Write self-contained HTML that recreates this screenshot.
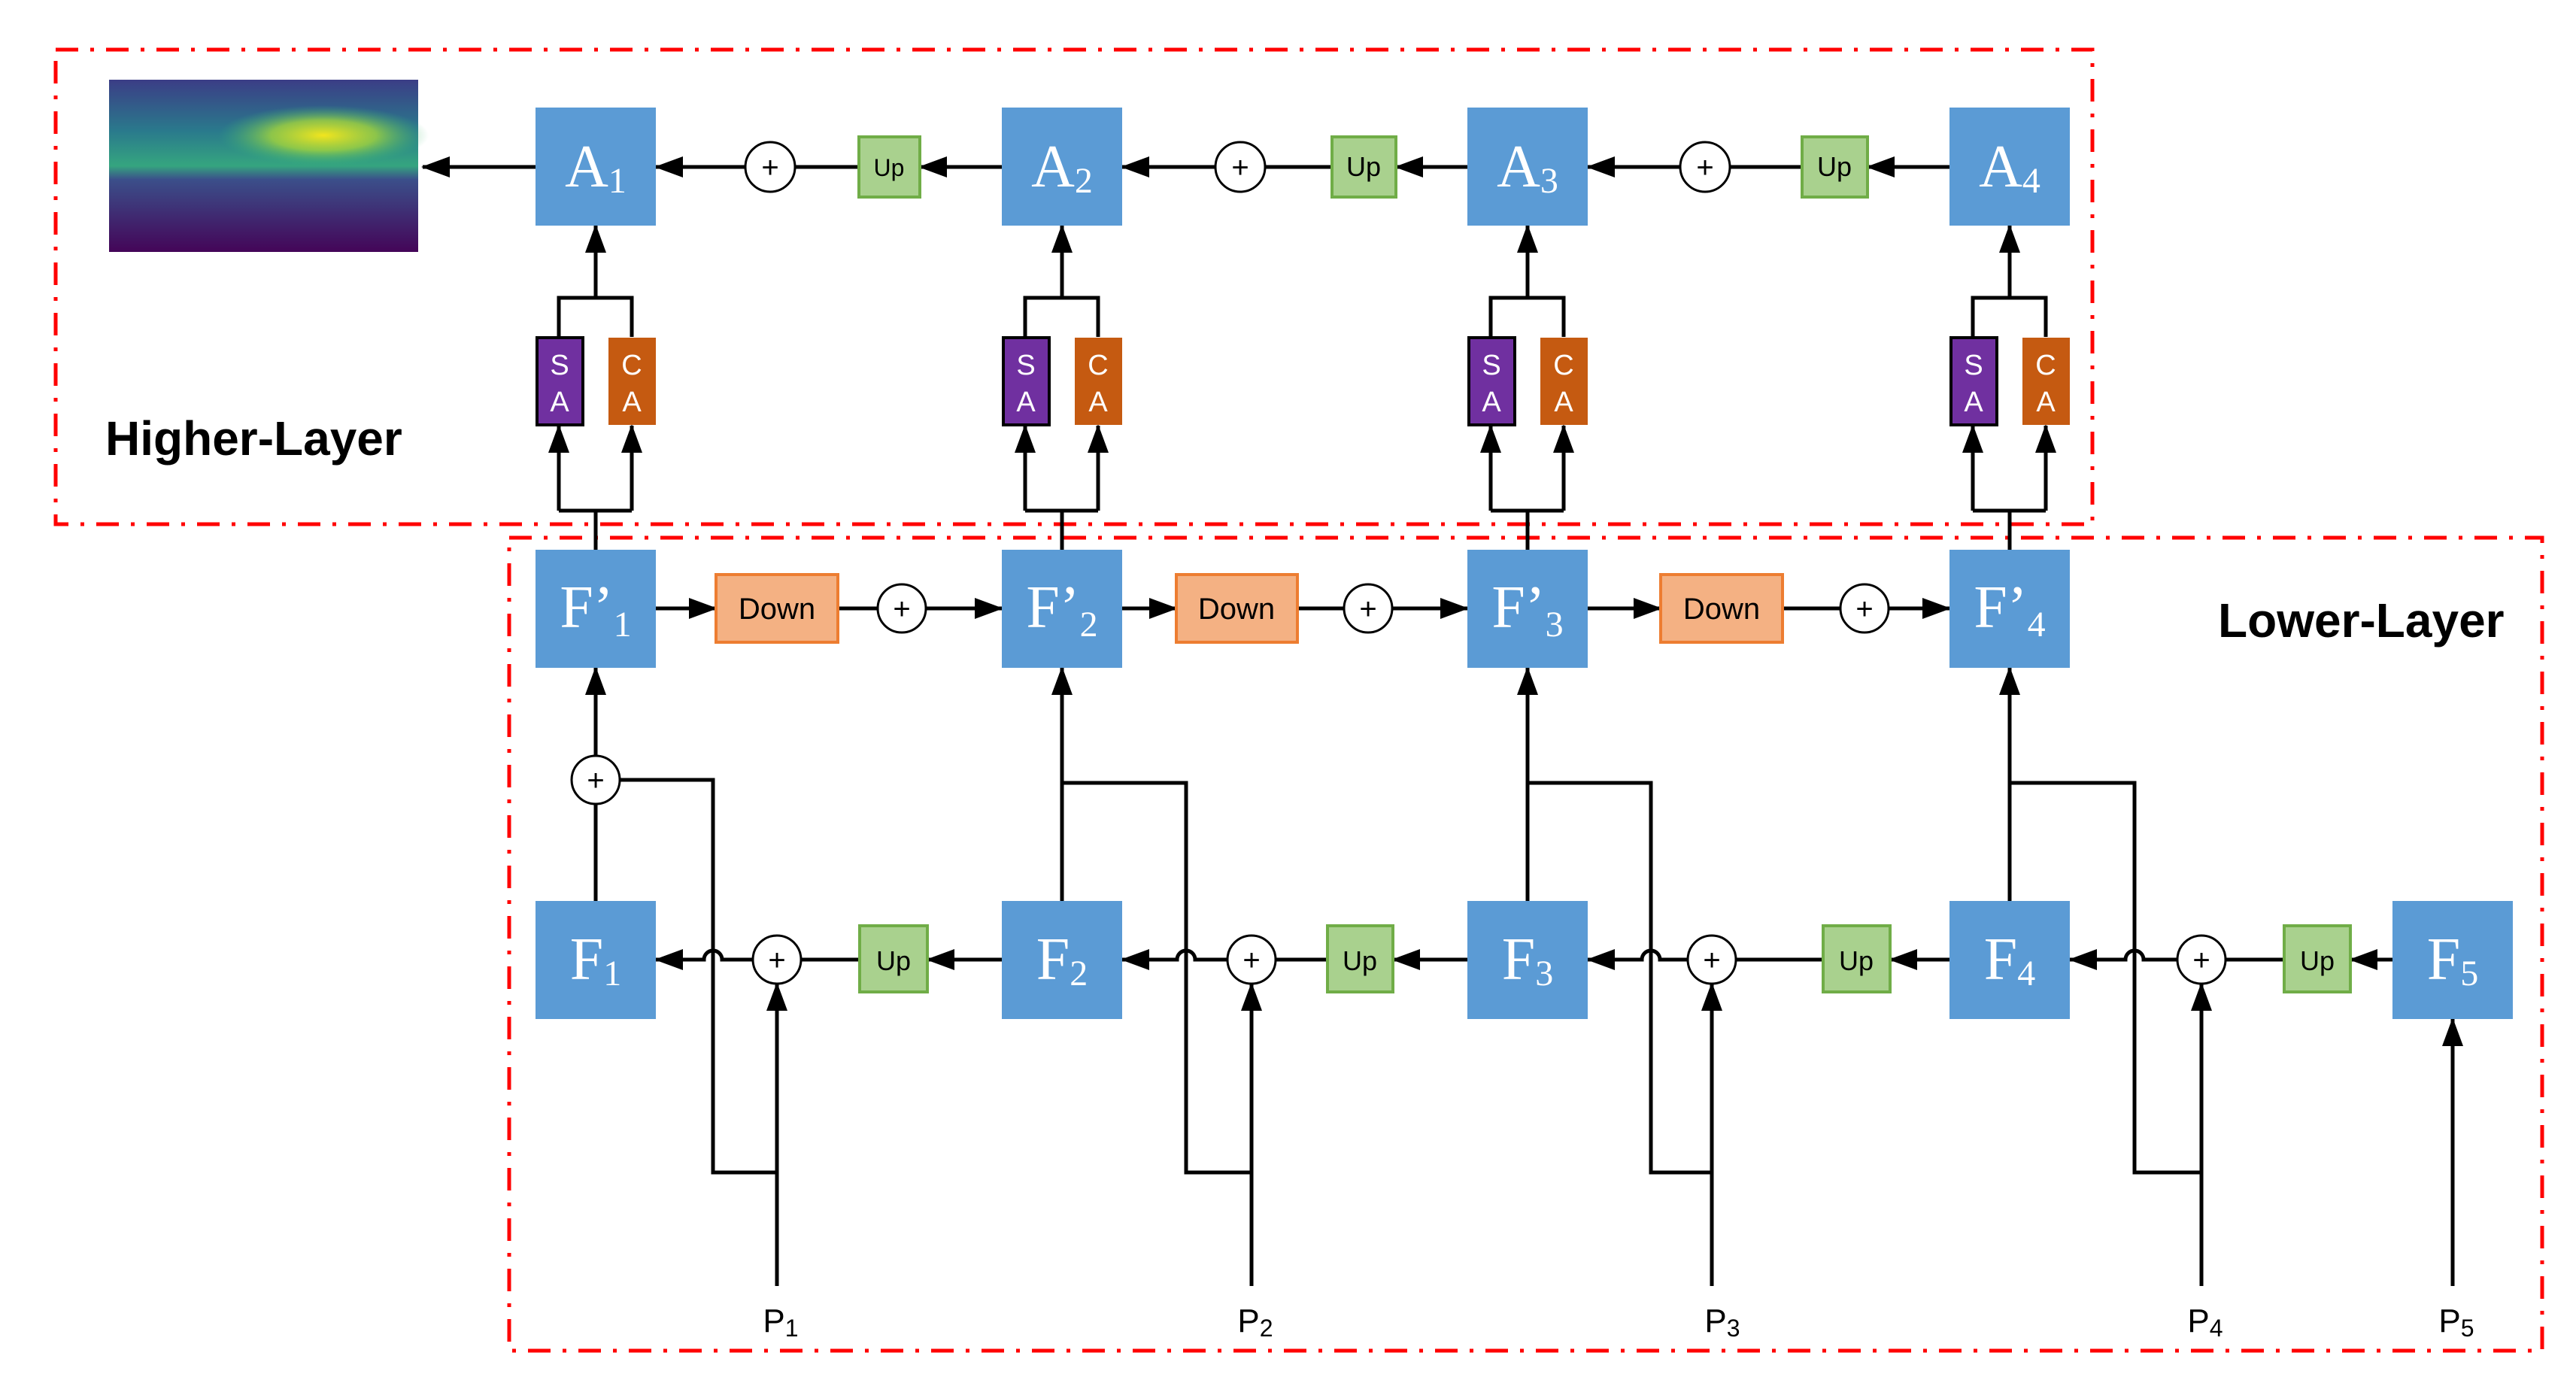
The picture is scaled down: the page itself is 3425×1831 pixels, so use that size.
<!DOCTYPE html>
<html><head><meta charset="utf-8"><style>html,body{margin:0;padding:0;background:#fff}svg{display:block}</style></head>
<body>
<svg width="3425" height="1831" viewBox="0 0 3425 1831" xmlns="http://www.w3.org/2000/svg">
<defs>
<marker id="ar" markerUnits="userSpaceOnUse" markerWidth="40" markerHeight="40" viewBox="0 0 40 40" refX="36" refY="20" orient="auto">
<path d="M0,6 L38,20 L0,34 Z" fill="#000"/></marker>
<linearGradient id="dg" x1="0" y1="0" x2="0" y2="1">
<stop offset="0" stop-color="#3b3d86"/><stop offset="0.3" stop-color="#2a7a8c"/><stop offset="0.5" stop-color="#35a57f"/><stop offset="0.58" stop-color="#3b4f8a"/><stop offset="1" stop-color="#440558"/></linearGradient>
<radialGradient id="yg" cx="0.5" cy="0.5" r="0.5"><stop offset="0" stop-color="#f2e51d"/><stop offset="0.5" stop-color="#a5d63a" stop-opacity="0.8"/><stop offset="1" stop-color="#35b779" stop-opacity="0"/></radialGradient>
</defs>
<g fill="none" stroke="#f00" stroke-width="5" stroke-dasharray="30 16 5 16">
<rect x="74" y="66" width="2708" height="631"/>
<rect x="677" y="715" width="2703" height="1081"/>
</g>
<rect x="145" y="106" width="411" height="229" fill="url(#dg)"/>
<ellipse cx="430" cy="180" rx="140" ry="40" fill="url(#yg)"/>
<text x="140" y="605" font-family="Liberation Sans, sans-serif" font-weight="bold" font-size="64">Higher-Layer</text>
<text x="2949" y="847" font-family="Liberation Sans, sans-serif" font-weight="bold" font-size="64">Lower-Layer</text>
<g stroke="#000" stroke-width="5" fill="none">
<line x1="712" y1="222" x2="562" y2="222" marker-end="url(#ar)"/>
<line x1="1332" y1="222" x2="1223" y2="222" marker-end="url(#ar)"/><line x1="1142" y1="222" x2="1056" y2="222"/><line x1="992" y1="222" x2="872" y2="222" marker-end="url(#ar)"/>
<line x1="1951" y1="222" x2="1856" y2="222" marker-end="url(#ar)"/><line x1="1771" y1="222" x2="1681" y2="222"/><line x1="1617" y1="222" x2="1492" y2="222" marker-end="url(#ar)"/>
<line x1="2592" y1="222" x2="2483" y2="222" marker-end="url(#ar)"/><line x1="2396" y1="222" x2="2299" y2="222"/><line x1="2235" y1="222" x2="2111" y2="222" marker-end="url(#ar)"/>
<!-- attention structure -->
<path d="M792,396 V300" marker-end="url(#ar)"/><path d="M743,448 V396 H840 V448"/><path d="M792,731 V679 M743,679 H840"/>
<path d="M743,679 V566" marker-end="url(#ar)"/><path d="M840,679 V566" marker-end="url(#ar)"/>
<path d="M1412,396 V300" marker-end="url(#ar)"/><path d="M1363,448 V396 H1460 V448"/><path d="M1412,731 V679 M1363,679 H1460"/>
<path d="M1363,679 V566" marker-end="url(#ar)"/><path d="M1460,679 V566" marker-end="url(#ar)"/>
<path d="M2031,396 V300" marker-end="url(#ar)"/><path d="M1982,448 V396 H2079 V448"/><path d="M2031,731 V679 M1982,679 H2079"/>
<path d="M1982,679 V566" marker-end="url(#ar)"/><path d="M2079,679 V566" marker-end="url(#ar)"/>
<path d="M2672,396 V300" marker-end="url(#ar)"/><path d="M2623,448 V396 H2720 V448"/><path d="M2672,731 V679 M2623,679 H2720"/>
<path d="M2623,679 V566" marker-end="url(#ar)"/><path d="M2720,679 V566" marker-end="url(#ar)"/>
<!-- F' row -->
<line x1="872" y1="809" x2="952" y2="809" marker-end="url(#ar)"/><line x1="1114" y1="809" x2="1167" y2="809"/><line x1="1231" y1="809" x2="1332" y2="809" marker-end="url(#ar)"/>
<line x1="1492" y1="809" x2="1564" y2="809" marker-end="url(#ar)"/><line x1="1725" y1="809" x2="1787" y2="809"/><line x1="1851" y1="809" x2="1951" y2="809" marker-end="url(#ar)"/>
<line x1="2111" y1="809" x2="2208" y2="809" marker-end="url(#ar)"/><line x1="2370" y1="809" x2="2447" y2="809"/><line x1="2511" y1="809" x2="2592" y2="809" marker-end="url(#ar)"/>
<!-- F row -->
<line x1="1332" y1="1276" x2="1233" y2="1276" marker-end="url(#ar)"/><line x1="1143" y1="1276" x2="1065" y2="1276"/><path d="M1001,1276 H960 a12,12 0 0 0 -24,0 H872" marker-end="url(#ar)"/>
<line x1="1951" y1="1276" x2="1852" y2="1276" marker-end="url(#ar)"/><line x1="1765" y1="1276" x2="1696" y2="1276"/><path d="M1632,1276 H1589 a12,12 0 0 0 -24,0 H1492" marker-end="url(#ar)"/>
<line x1="2592" y1="1276" x2="2513" y2="1276" marker-end="url(#ar)"/><line x1="2424" y1="1276" x2="2308" y2="1276"/><path d="M2244,1276 H2207 a12,12 0 0 0 -24,0 H2111" marker-end="url(#ar)"/>
<line x1="3181" y1="1276" x2="3125" y2="1276" marker-end="url(#ar)"/><line x1="3037" y1="1276" x2="2959" y2="1276"/><path d="M2895,1276 H2850 a12,12 0 0 0 -24,0 H2752" marker-end="url(#ar)"/>
<!-- verticals F to F' -->
<path d="M792,1198 V1069"/><path d="M792,1005 V888" marker-end="url(#ar)"/>
<path d="M1412,1198 V888" marker-end="url(#ar)"/>
<path d="M2031,1198 V888" marker-end="url(#ar)"/>
<path d="M2672,1198 V888" marker-end="url(#ar)"/>
<!-- feedback -->
<path d="M1033,1559 H948 V1037 H824"/>
<path d="M1664,1559 H1577 V1041 H1412"/>
<path d="M2276,1559 H2195 V1041 H2031"/>
<path d="M2927,1559 H2838 V1041 H2672"/>
<!-- P lines -->
<path d="M1033,1710 V1308" marker-end="url(#ar)"/>
<path d="M1664,1710 V1308" marker-end="url(#ar)"/>
<path d="M2276,1710 V1308" marker-end="url(#ar)"/>
<path d="M2927,1710 V1308" marker-end="url(#ar)"/>
<path d="M3261,1710 V1355" marker-end="url(#ar)"/>
</g>
<g stroke="#000" stroke-width="3" fill="#fff">
<circle cx="1024" cy="222" r="33"/><circle cx="1649" cy="222" r="33"/><circle cx="2267" cy="222" r="33"/>
<circle cx="1199" cy="809" r="32"/><circle cx="1819" cy="809" r="32"/><circle cx="2479" cy="809" r="32"/>
<circle cx="792" cy="1037" r="32"/>
<circle cx="1033" cy="1276" r="32"/><circle cx="1664" cy="1276" r="32"/><circle cx="2276" cy="1276" r="32"/><circle cx="2927" cy="1276" r="32"/>
</g>
<g font-family="Liberation Sans, sans-serif" font-size="40" text-anchor="middle">
<text x="1024" y="236">+</text><text x="1649" y="236">+</text><text x="2267" y="236">+</text>
<text x="1199" y="823">+</text><text x="1819" y="823">+</text><text x="2479" y="823">+</text>
<text x="792" y="1051">+</text>
<text x="1033" y="1290">+</text><text x="1664" y="1290">+</text><text x="2276" y="1290">+</text><text x="2927" y="1290">+</text>
</g>
<g fill="#5b9bd5">
<rect x="712" y="143" width="160" height="157"/><rect x="1332" y="143" width="160" height="157"/><rect x="1951" y="143" width="160" height="157"/><rect x="2592" y="143" width="160" height="157"/>
<rect x="712" y="731" width="160" height="157"/><rect x="1332" y="731" width="160" height="157"/><rect x="1951" y="731" width="160" height="157"/><rect x="2592" y="731" width="160" height="157"/>
<rect x="712" y="1198" width="160" height="157"/><rect x="1332" y="1198" width="160" height="157"/><rect x="1951" y="1198" width="160" height="157"/><rect x="2592" y="1198" width="160" height="157"/><rect x="3181" y="1198" width="160" height="157"/>
</g>
<g font-family="Liberation Serif, serif" font-size="80" fill="#fff" text-anchor="middle">
<text x="792" y="248">A<tspan font-size="48" dy="8">1</tspan></text>
<text x="1412" y="248">A<tspan font-size="48" dy="8">2</tspan></text>
<text x="2031" y="248">A<tspan font-size="48" dy="8">3</tspan></text>
<text x="2672" y="248">A<tspan font-size="48" dy="8">4</tspan></text>
<text x="792" y="834">F’<tspan font-size="48" dy="12">1</tspan></text>
<text x="1412" y="834">F’<tspan font-size="48" dy="12">2</tspan></text>
<text x="2031" y="834">F’<tspan font-size="48" dy="12">3</tspan></text>
<text x="2672" y="834">F’<tspan font-size="48" dy="12">4</tspan></text>
<text x="792" y="1302">F<tspan font-size="48" dy="8">1</tspan></text>
<text x="1412" y="1302">F<tspan font-size="48" dy="8">2</tspan></text>
<text x="2031" y="1302">F<tspan font-size="48" dy="8">3</tspan></text>
<text x="2672" y="1302">F<tspan font-size="48" dy="8">4</tspan></text>
<text x="3261" y="1302">F<tspan font-size="48" dy="8">5</tspan></text>
</g>
<g stroke="#000" stroke-width="4" fill="#7030a0">
<rect x="714" y="449" width="61" height="116"/><rect x="1334" y="449" width="61" height="116"/><rect x="1953" y="449" width="61" height="116"/><rect x="2594" y="449" width="61" height="116"/>
</g>
<g fill="#c55a11">
<rect x="809" y="449" width="63" height="116"/><rect x="1429" y="449" width="63" height="116"/><rect x="2048" y="449" width="63" height="116"/><rect x="2689" y="449" width="63" height="116"/>
</g>
<g font-family="Liberation Sans, sans-serif" font-size="38" fill="#fff" text-anchor="middle">
<text x="744" y="498">S</text><text x="744" y="547">A</text><text x="840" y="498">C</text><text x="840" y="547">A</text>
<text x="1364" y="498">S</text><text x="1364" y="547">A</text><text x="1460" y="498">C</text><text x="1460" y="547">A</text>
<text x="1983" y="498">S</text><text x="1983" y="547">A</text><text x="2079" y="498">C</text><text x="2079" y="547">A</text>
<text x="2624" y="498">S</text><text x="2624" y="547">A</text><text x="2720" y="498">C</text><text x="2720" y="547">A</text>
</g>
<g fill="#a9d18e" stroke="#70ad47" stroke-width="4">
<rect x="1142" y="182" width="81" height="80"/><rect x="1771" y="182" width="85" height="80"/><rect x="2396" y="182" width="87" height="80"/>
<rect x="1143" y="1231" width="90" height="88"/><rect x="1765" y="1231" width="87" height="88"/><rect x="2424" y="1231" width="89" height="88"/><rect x="3037" y="1231" width="88" height="88"/>
</g>
<g font-family="Liberation Sans, sans-serif" text-anchor="middle" fill="#000">
<text x="1182" y="234" font-size="32">Up</text><text x="1813" y="234" font-size="36">Up</text><text x="2439" y="234" font-size="36">Up</text>
<text x="1188" y="1290" font-size="36">Up</text><text x="1808" y="1290" font-size="36">Up</text><text x="2468" y="1290" font-size="36">Up</text><text x="3081" y="1290" font-size="36">Up</text>
</g>
<g fill="#f4b183" stroke="#ed7d31" stroke-width="4">
<rect x="952" y="764" width="162" height="90"/><rect x="1564" y="764" width="161" height="90"/><rect x="2208" y="764" width="162" height="90"/>
</g>
<g font-family="Liberation Sans, sans-serif" font-size="40" text-anchor="middle">
<text x="1033" y="823">Down</text><text x="1644" y="823">Down</text><text x="2289" y="823">Down</text>
</g>
<g font-family="Liberation Sans, sans-serif" font-size="44" text-anchor="middle">
<text x="1038" y="1771">P<tspan font-size="32" dy="6">1</tspan></text>
<text x="1669" y="1771">P<tspan font-size="32" dy="6">2</tspan></text>
<text x="2290" y="1771">P<tspan font-size="32" dy="6">3</tspan></text>
<text x="2932" y="1771">P<tspan font-size="32" dy="6">4</tspan></text>
<text x="3266" y="1771">P<tspan font-size="32" dy="6">5</tspan></text>
</g>
</svg>
</body></html>
